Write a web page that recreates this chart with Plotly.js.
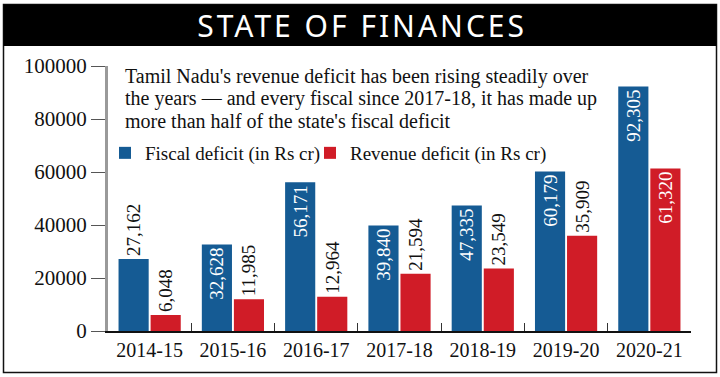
<!DOCTYPE html>
<html>
<head>
<meta charset="utf-8">
<script src="https://cdn.plot.ly/plotly-3.0.1.min.js"></script>
<style>
html,body{margin:0;padding:0;background:#fff;}
#chart{width:720px;height:377px;}
</style>
</head>
<body>
<div id="chart"></div>
<script>
const years = ["2014-15","2015-16","2016-17","2017-18","2018-19","2019-20","2020-21"];
const fiscalDeficit = [27162, 32628, 56171, 39840, 47335, 60179, 92305];
const revenueDeficit = [6048, 11985, 12964, 21594, 23549, 35909, 61320];
const fiscalTextPos = ["outside","inside","inside","inside","inside","inside","inside"];
const revenueTextPos = ["outside","outside","outside","outside","outside","outside","inside"];
const yTicks = [0, 20000, 40000, 60000, 80000, 100000];
const noteLines = [
  "Tamil Nadu's revenue deficit has been rising steadily over",
  "the years — and every fiscal since 2017-18, it has made up",
  "more than half of the state's fiscal deficit"
];

const BLUE = "#155b94";
const RED = "#d01c27";
const SERIF = "Liberation Serif, Times New Roman, serif";

const L = 108, R = 691, T = 66, B = 331;
const px = x => (x - L) / (R - L);
const py = y => (B - y) / (B - T);

const common = {
  type: "bar",
  x: years,
  textangle: -90,
  texttemplate: "%{y:,d}",
  insidetextanchor: "end",
  constraintext: "none",
  insidetextfont: {family: SERIF, size: 19, color: "#ffffff"},
  outsidetextfont: {family: SERIF, size: 19, color: "#111111"},
  cliponaxis: false,
  hoverinfo: "skip"
};

const traces = [
  Object.assign({}, common, {name: "Fiscal deficit (in Rs cr)", y: fiscalDeficit, marker: {color: BLUE}, textposition: fiscalTextPos, legend: "legend"}),
  Object.assign({}, common, {name: "Revenue deficit (in Rs cr)", y: revenueDeficit, marker: {color: RED}, textposition: revenueTextPos, legend: "legend2"})
];

const noteAnns = noteLines.map((t, i) => ({
  xref: "paper", yref: "paper", x: px(123), y: py(76 + i * 22.5),
  xanchor: "left", yanchor: "middle", align: "left", showarrow: false,
  text: t, font: {family: SERIF, size: 20, color: "#111"}
}));

const legendBase = {
  orientation: "v",
  xanchor: "left",
  y: py(153), yanchor: "middle",
  font: {family: SERIF, size: 19, color: "#111"},
  bgcolor: "rgba(0,0,0,0)",
  itemwidth: 30
};

const layout = {
  width: 720, height: 377,
  margin: {l: L, r: 720 - R, t: T, b: 377 - B, pad: 0},
  paper_bgcolor: "#ffffff",
  plot_bgcolor: "#ffffff",
  barmode: "group",
  bargap: 0.23,
  bargroupgap: 0.06,
  font: {family: SERIF, color: "#111"},
  title: {
    text: '<span style="letter-spacing:3px">STATE OF FINANCES</span>',
    font: {family: "Noto Sans, sans-serif", size: 30, color: "#ffffff"},
    x: 0.503, xref: "container", xanchor: "center",
    y: 1 - 26/377, yref: "container", yanchor: "middle"
  },
  showlegend: true,
  legend: Object.assign({}, legendBase, {x: px(105)}),
  legend2: Object.assign({}, legendBase, {x: px(310)}),
  xaxis: {
    type: "category",
    range: [-0.5, 6.5],
    showline: true, linecolor: "#111", linewidth: 1.5,
    ticks: "inside", tickson: "boundaries", ticklen: 8, tickcolor: "#333", tickwidth: 1,
    tickfont: {family: SERIF, size: 20, color: "#111"},
    showgrid: false, zeroline: false, fixedrange: true
  },
  yaxis: {
    range: [0, 100000],
    tickvals: yTicks,
    tickformat: "d",
    showline: true, linecolor: "#9a9a9a", linewidth: 3,
    ticks: "outside", ticklen: 14, tickcolor: "#555", tickwidth: 1,
    tickfont: {family: SERIF, size: 21, color: "#111"},
    showgrid: false, zeroline: false, fixedrange: true
  },
  shapes: [
    {type: "rect", xref: "paper", yref: "paper", x0: px(3.5), x1: px(716.5), y0: py(372.5), y1: py(4.5),
     line: {color: "#111", width: 1.5}, fillcolor: "rgba(0,0,0,0)", layer: "below"},
    {type: "rect", xref: "paper", yref: "paper", x0: px(3.5), x1: px(716.5), y0: py(46), y1: py(4.5),
     line: {width: 0}, fillcolor: "#000000", layer: "below"}
  ],
  annotations: noteAnns
};

Plotly.newPlot("chart", traces, layout, {displayModeBar: false, staticPlot: true});
</script>
</body>
</html>
